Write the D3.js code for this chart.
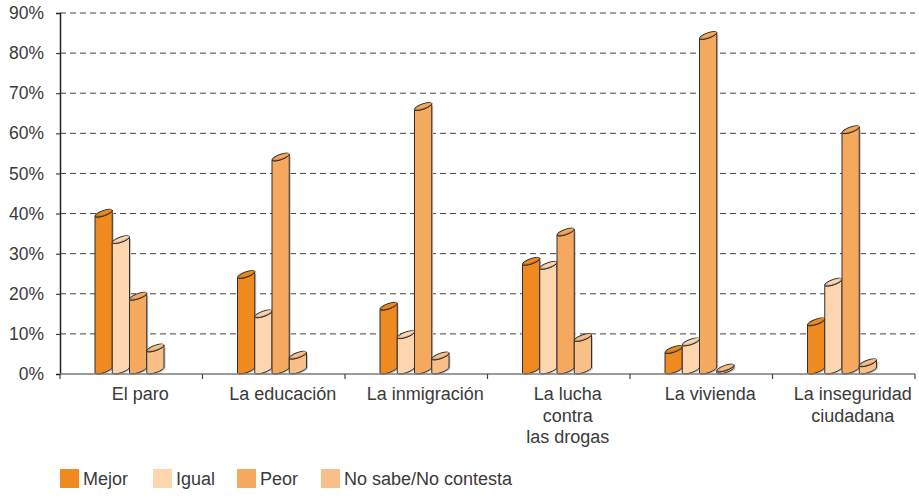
<!DOCTYPE html>
<html>
<head>
<meta charset="utf-8">
<script src="https://cdn.jsdelivr.net/npm/d3@7/dist/d3.min.js"></script>
<style>
  html, body { margin: 0; padding: 0; background: #fff; }
  text { font-family: "Liberation Sans", Arial, Helvetica, sans-serif; fill: #3a3a3a; }
</style>
</head>
<body>
<svg id="chart" width="919" height="497"></svg>
<script>
// ---- data ----
const categories = [
  ["El paro"],
  ["La educación"],
  ["La inmigración"],
  ["La lucha", "contra", "las drogas"],
  ["La vivienda"],
  ["La inseguridad", "ciudadana"]
];
const seriesNames = ["Mejor", "Igual", "Peor", "No sabe/No contesta"];
const mejor = [40.1, 24.8, 16.9, 28.1, 6.1, 13.0];
const igual = [33.5, 15.0, 9.8, 27.1, 8.0, 22.9];
const peor  = [19.4, 54.1, 66.7, 35.4, 84.4, 60.9];
const nsnc  = [6.5, 4.7, 4.5, 9.1, 1.5, 2.8];
const yTicks = [0, 10, 20, 30, 40, 50, 60, 70, 80, 90];
const yTickLabels = ["0%", "10%", "20%", "30%", "40%", "50%", "60%", "70%", "80%", "90%"];
const colors = ["#EE8A20", "#FDD6B0", "#F4A95E", "#F8BF88"];

const seriesValues = [mejor, igual, peor, nsnc];

// ---- layout ----
const svg = d3.select("#chart");
const mLeft = 60, mRight = 915, mTop = 13, mBottom = 374;

const x = d3.scaleBand().domain(d3.range(categories.length)).range([mLeft, mRight]).padding(0);
const bw = x.bandwidth();
const x1 = d3.scaleBand().domain(d3.range(seriesNames.length)).range([35, 104]).padding(0);
const y = d3.scaleLinear().domain([0, 90]).range([mBottom, mTop]);

// gridlines
svg.append("g").selectAll("line")
  .data(yTicks.filter(d => d > 0))
  .join("line")
  .attr("x1", mLeft).attr("x2", mRight)
  .attr("y1", d => y(d)).attr("y2", d => y(d))
  .attr("stroke", "#444").attr("stroke-width", 1)
  .attr("stroke-dasharray", "6,4");

// y axis
const yAxis = d3.axisLeft(y).tickValues(yTicks).tickSize(4)
  .tickFormat((d, i) => yTickLabels[i]);
const gy = svg.append("g").attr("transform", `translate(${mLeft},0)`).call(yAxis);
gy.select(".domain").attr("stroke", "#222").attr("stroke-width", 1.5);
gy.selectAll(".tick line").attr("stroke", "#222");
gy.selectAll(".tick text")
  .attr("x", -16)
  .style("font-family", '"Liberation Sans", Arial, sans-serif')
  .style("font-size", "17.5px")
  .attr("fill", "#3a3a3a");

// bars (cylinders)
const rx = 9, ry = 2.6, rot = -19.4;
function cylBody(x0, x1p, yTopC, yBotC) {
  return `M${x0},${yTopC + 3} L${x0},${yBotC + 3} ` +
    `A${rx},${ry} ${rot} 0 0 ${x1p},${yBotC - 3} ` +
    `L${x1p},${yTopC - 3} ` +
    `A${rx},${ry} ${rot} 0 1 ${x0},${yTopC + 3} Z`;
}
function topEllipse(x0, x1p, yTopC) {
  return `M${x0},${yTopC + 3} A${rx},${ry} ${rot} 0 1 ${x1p},${yTopC - 3} ` +
    `A${rx},${ry} ${rot} 0 1 ${x0},${yTopC + 3} Z`;
}

const barsG = svg.append("g");
categories.forEach((cat, ci) => {
  seriesValues.forEach((vals, si) => {
    const v = vals[ci];
    const x0 = x(ci) + x1(si);
    const xr = x0 + x1.bandwidth();
    const yt = y(v);
    const yb = y(0) - 4;
    const c = colors[si];
    // shadow
    barsG.append("path")
      .attr("d", cylBody(x0 + 1.5, xr + 1.5, yt + 1, yb + 1))
      .attr("fill", "#c8c8c8");
    barsG.append("path")
      .attr("d", cylBody(x0, xr, yt, yb))
      .attr("fill", c).attr("stroke", "#2e2e2e").attr("stroke-width", 1)
      .attr("stroke-linejoin", "round");
    barsG.append("path")
      .attr("d", topEllipse(x0, xr, yt))
      .attr("fill", d3.color(c).darker(0.45)).attr("stroke", "#2e2e2e").attr("stroke-width", 1);
    barsG.append("path")
      .attr("d", topEllipse(x0 + 2.5, xr, yt - 0.8))
      .attr("fill", c).attr("stroke", "none");
  });
});

// x axis
const xAxisG = svg.append("g");
xAxisG.append("line")
  .attr("x1", mLeft).attr("x2", mRight).attr("y1", mBottom).attr("y2", mBottom)
  .attr("stroke", "#7a7a7a").attr("stroke-width", 1.5);
xAxisG.selectAll("line.tk")
  .data(d3.range(categories.length + 1))
  .join("line").attr("class", "tk")
  .attr("x1", d => mLeft + d * bw).attr("x2", d => mLeft + d * bw)
  .attr("y1", mBottom).attr("y2", mBottom + 5)
  .attr("stroke", "#444").attr("stroke-width", 1.2);

// category labels
const labG = svg.append("g");
categories.forEach((lines, ci) => {
  const t = labG.append("text")
    .attr("text-anchor", "middle")
    .attr("font-size", "18px")
    .attr("x", x(ci) + bw / 2 + 9)
    .attr("y", 400);
  lines.forEach((ln, li) => {
    t.append("tspan").attr("x", x(ci) + bw / 2 + 9).attr("dy", li === 0 ? 0 : 21.5).text(ln);
  });
});

// legend
const legX = [60, 153, 237, 321];
const legG = svg.append("g");
seriesNames.forEach((name, i) => {
  legG.append("rect").attr("x", legX[i]).attr("y", 469).attr("width", 19).attr("height", 19)
    .attr("fill", colors[i]);
  legG.append("text").attr("x", legX[i] + 23).attr("y", 484.5)
    .attr("font-size", "18px").text(name);
});
</script>
</body>
</html>
